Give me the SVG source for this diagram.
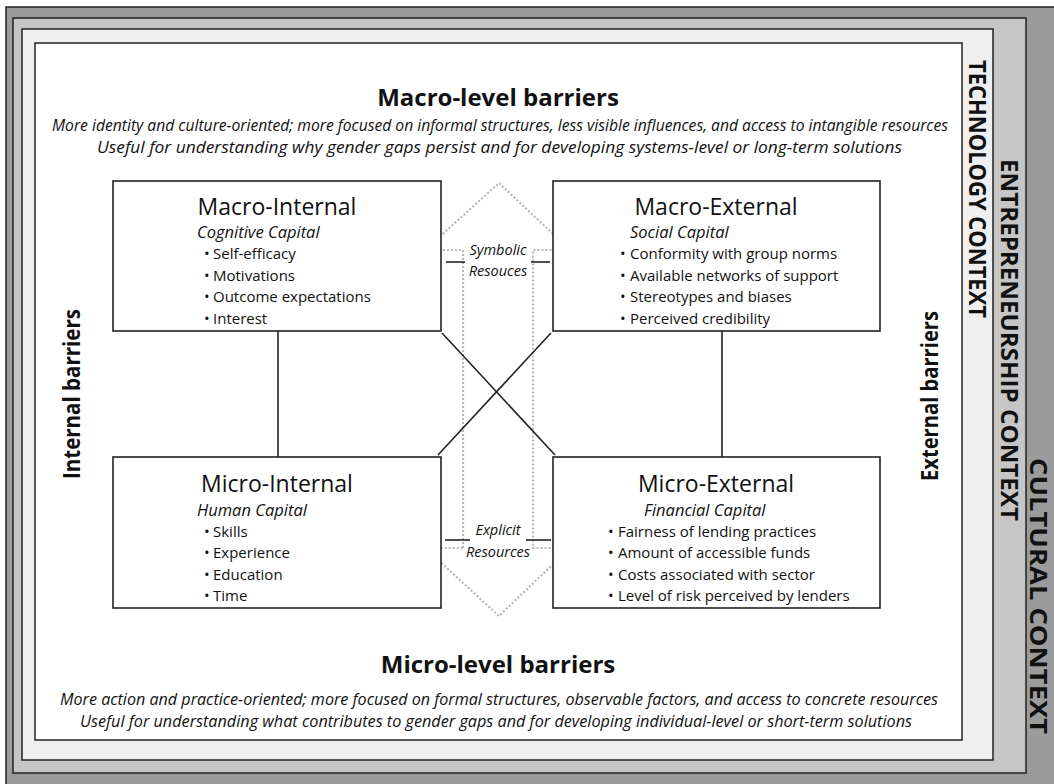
<svg xmlns="http://www.w3.org/2000/svg" width="1054" height="784" viewBox="0 0 1054 784">
<style>
text{font-family:"Open Sans","Noto Sans","DejaVu Sans",sans-serif;fill:#111}
.frame{stroke:#222;stroke-width:1.5}
.box{fill:#fff;stroke:#222;stroke-width:1.6}
.ttl{font-size:23px;text-anchor:middle}
.cap{font-size:16.5px;font-style:italic}
.bl{font-size:15px}
.hd{font-size:24px;font-weight:bold;text-anchor:middle}
.sub{font-size:15.5px;font-style:italic;text-anchor:middle}
.ctx{font-size:24px;font-weight:bold;text-anchor:middle}
.side{font-size:24px;font-weight:bold;text-anchor:middle}
.res{font-size:14.5px;font-style:italic;text-anchor:middle}
.ln{stroke:#222;stroke-width:1.6;fill:none}
.dot{fill:none;stroke:#b8b8b8;stroke-width:2.2;stroke-dasharray:2 2}
</style>
<rect x="0" y="0" width="1054" height="784" fill="#fff"/>
<g id="frames">
<rect class="frame" x="6" y="7" width="1070" height="800" fill="#9b9b9b"/>
<rect class="frame" x="13" y="18" width="1013" height="755" fill="#c6c6c6"/>
<rect class="frame" x="22" y="29" width="971" height="731" fill="#efefef"/>
<rect class="frame" x="35" y="43" width="927" height="697" fill="#fff"/>
</g>
<g id="context-labels">
<text class="ctx" transform="translate(969,189) rotate(90)" textLength="258" lengthAdjust="spacingAndGlyphs">TECHNOLOGY CONTEXT</text>
<text class="ctx" transform="translate(1001,340) rotate(90)" textLength="362" lengthAdjust="spacingAndGlyphs">ENTREPRENEURSHIP CONTEXT</text>
<text class="ctx" transform="translate(1030,596) rotate(90)" textLength="276" lengthAdjust="spacingAndGlyphs">CULTURAL CONTEXT</text>
</g>
<g id="headings">
<text class="hd" x="498" y="106">Macro-level barriers</text>
<text class="sub" x="500" y="131" textLength="896" lengthAdjust="spacingAndGlyphs">More identity and culture-oriented; more focused on informal structures, less visible influences, and access to intangible resources</text>
<text class="sub" x="499.5" y="153" textLength="805" lengthAdjust="spacingAndGlyphs">Useful for understanding why gender gaps persist and for developing systems-level or long-term solutions</text>
<text class="hd" x="498" y="673">Micro-level barriers</text>
<text class="sub" x="499" y="705" textLength="878" lengthAdjust="spacingAndGlyphs">More action and practice-oriented; more focused on formal structures, observable factors, and access to concrete resources</text>
<text class="sub" x="496" y="727" textLength="832" lengthAdjust="spacingAndGlyphs">Useful for understanding what contributes to gender gaps  and  for developing individual-level or short-term solutions</text>
<text class="side" transform="translate(80,394) rotate(-90)" textLength="170" lengthAdjust="spacingAndGlyphs">Internal barriers</text>
<text class="side" transform="translate(938,396) rotate(-90)" textLength="170" lengthAdjust="spacingAndGlyphs">External barriers</text>
</g>
<g id="connectors">
<path class="dot" d="M463,548 V250 H425 L499,183 L570,250 H533 V548 H570 L499,616 L425,548 Z"/>
<line class="ln" x1="278" y1="331" x2="278" y2="457"/>
<line class="ln" x1="722" y1="331" x2="722" y2="457"/>
<line class="ln" x1="442" y1="333" x2="555" y2="455"/>
<line class="ln" x1="551" y1="333" x2="438" y2="455"/>
<line class="ln" x1="446" y1="262" x2="465" y2="262"/>
<line class="ln" x1="531" y1="262" x2="550" y2="262"/>
<line class="ln" x1="445" y1="540" x2="470" y2="540"/>
<line class="ln" x1="526" y1="540" x2="551" y2="540"/>
</g>
<g id="resource-labels">
<text class="res" x="498" y="255">Symbolic</text>
<text class="res" x="498" y="276">Resouces</text>
<text class="res" x="498" y="535">Explicit</text>
<text class="res" x="498" y="557">Resources</text>
</g>
<g id="macro-internal">
<rect class="box" x="113" y="181" width="328" height="150"/>
<text class="ttl" x="277" y="215">Macro-Internal</text>
<text class="cap" x="197" y="238">Cognitive Capital</text>
<text class="bl" x="204" y="259">•</text><text class="bl" x="213" y="259">Self-efficacy</text>
<text class="bl" x="204" y="281">•</text><text class="bl" x="213" y="281">Motivations</text>
<text class="bl" x="204" y="302">•</text><text class="bl" x="213" y="302">Outcome expectations</text>
<text class="bl" x="204" y="324">•</text><text class="bl" x="213" y="324">Interest</text>
</g>
<g id="macro-external">
<rect class="box" x="553" y="181" width="327" height="150"/>
<text class="ttl" x="716" y="215">Macro-External</text>
<text class="cap" x="630" y="238">Social Capital</text>
<text class="bl" x="620" y="259">•</text><text class="bl" x="630" y="259">Conformity with group norms</text>
<text class="bl" x="620" y="281">•</text><text class="bl" x="630" y="281">Available networks of support</text>
<text class="bl" x="620" y="302">•</text><text class="bl" x="630" y="302">Stereotypes and biases</text>
<text class="bl" x="620" y="324">•</text><text class="bl" x="630" y="324">Perceived credibility</text>
</g>
<g id="micro-internal">
<rect class="box" x="113" y="457" width="328" height="151"/>
<text class="ttl" x="277" y="492">Micro-Internal</text>
<text class="cap" x="197" y="516">Human Capital</text>
<text class="bl" x="204" y="537">•</text><text class="bl" x="213" y="537">Skills</text>
<text class="bl" x="204" y="558">•</text><text class="bl" x="213" y="558">Experience</text>
<text class="bl" x="204" y="580">•</text><text class="bl" x="213" y="580">Education</text>
<text class="bl" x="204" y="601">•</text><text class="bl" x="213" y="601">Time</text>
</g>
<g id="micro-external">
<rect class="box" x="553" y="457" width="327" height="151"/>
<text class="ttl" x="716" y="492">Micro-External</text>
<text class="cap" x="644" y="516">Financial Capital</text>
<text class="bl" x="608" y="537">•</text><text class="bl" x="618" y="537">Fairness of lending practices</text>
<text class="bl" x="608" y="558">•</text><text class="bl" x="618" y="558">Amount of accessible funds</text>
<text class="bl" x="608" y="580">•</text><text class="bl" x="618" y="580">Costs associated with sector</text>
<text class="bl" x="608" y="601">•</text><text class="bl" x="618" y="601">Level of risk perceived by lenders</text>
</g>
</svg>
